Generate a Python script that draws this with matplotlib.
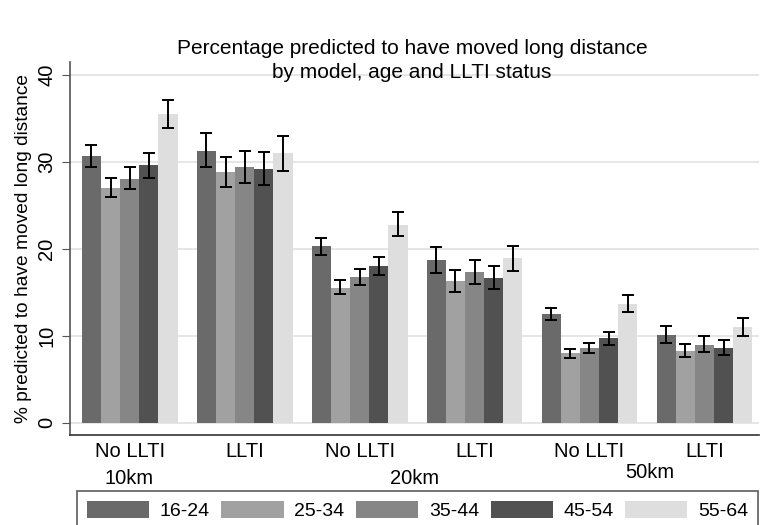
import numpy as np
import matplotlib.pyplot as plt

plt.rcParams['font.family'] = ['Liberation Sans', 'DejaVu Sans']

# groups: model distance x LLTI status
status = ["No LLTI", "LLTI", "No LLTI", "LLTI", "No LLTI", "LLTI"]
distances = ["10km", "20km", "50km"]
ages = ["16-24", "25-34", "35-44", "45-54", "55-64"]
colors = ["#6a6a6a", "#a1a1a1", "#868686", "#515151", "#dedede"]

# percentage per age band, one value per group
pct = {
    "16-24": [30.7, 31.3, 20.3, 18.7, 12.5, 10.1],
    "25-34": [27.0, 28.8, 15.5, 16.3, 8.0, 8.3],
    "35-44": [28.1, 29.4, 16.8, 17.4, 8.6, 9.0],
    "45-54": [29.6, 29.2, 18.0, 16.6, 9.7, 8.6],
    "55-64": [35.5, 31.0, 22.8, 18.9, 13.7, 11.0],
}
ci_low = {
    "16-24": [29.4, 29.4, 19.3, 17.2, 11.8, 9.2],
    "25-34": [26.0, 27.1, 14.8, 15.1, 7.4, 7.6],
    "35-44": [26.9, 27.6, 15.9, 16.0, 8.0, 8.2],
    "45-54": [28.2, 27.4, 17.0, 15.4, 9.0, 7.8],
    "55-64": [33.9, 29.0, 21.5, 17.5, 12.7, 10.0],
}
ci_high = {
    "16-24": [31.9, 33.3, 21.3, 20.2, 13.2, 11.1],
    "25-34": [28.2, 30.6, 16.4, 17.6, 8.5, 9.1],
    "35-44": [29.4, 31.3, 17.7, 18.7, 9.2, 10.0],
    "45-54": [31.0, 31.1, 19.1, 18.0, 10.5, 9.5],
    "55-64": [37.1, 33.0, 24.2, 20.3, 14.7, 12.1],
}

fig = plt.figure(figsize=(7.6, 5.25), dpi=100)
ax = fig.add_axes([70 / 760, 90 / 525, 689 / 760, 373 / 525])

group_start = np.arange(len(status)) * 6
for i, age in enumerate(ages):
    x = group_start + i + 0.5
    vals = np.array(pct[age])
    lo = vals - np.array(ci_low[age])
    hi = np.array(ci_high[age]) - vals
    ax.bar(x, vals, width=1.0, color=colors[i], label=age, zorder=2)
    ax.errorbar(x, vals, yerr=[lo, hi], fmt='none', ecolor='black',
                elinewidth=1.4, capsize=4.5, capthick=1.4, zorder=3)

ax.set_xlim(-0.62, 35.35)
ax.set_ylim(-1.4, 41.5)
ax.set_yticks([0, 10, 20, 30, 40])
ax.set_yticklabels(["0", "10", "20", "30", "40"], rotation=90, va='center')
ax.yaxis.grid(True, color='#e2e2e2', linewidth=1.2, zorder=0)
ax.set_axisbelow(True)
ax.tick_params(axis='y', labelsize=14.5, length=6, color='#555555', pad=4)

ax.set_xticks(group_start + 2.5)
ax.set_xticklabels(status, fontsize=14.5)
ax.tick_params(axis='x', length=0, pad=5)

for s in ['top', 'right']:
    ax.spines[s].set_visible(False)
ax.spines['left'].set_color('#555555')
ax.spines['bottom'].set_color('#333333')
ax.spines['left'].set_linewidth(1.2)
ax.spines['bottom'].set_linewidth(1.2)

ax.set_ylabel("% predicted to have moved long distance", fontsize=13.8, labelpad=4)

# outer group labels
fig.text(129 / 760, 1 - 478 / 525, distances[0], ha='center', va='center', fontsize=14.5)
fig.text(415 / 760, 1 - 478 / 525, distances[1], ha='center', va='center', fontsize=14.5)
fig.text(650 / 760, 1 - 473 / 525, distances[2], ha='center', va='center', fontsize=14.5)

fig.text(412 / 760, 1 - 48 / 525, "Percentage predicted to have moved long distance",
         ha='center', va='center', fontsize=15)
fig.text(412 / 760, 1 - 73 / 525, "by model, age and LLTI status",
         ha='center', va='center', fontsize=15)

leg_top = 1 - 491 / 525
leg = fig.legend(loc='upper left', bbox_to_anchor=(77 / 760, leg_top - 0.05, 681 / 760, 0.05),
                 mode='expand', ncol=5, fontsize=14, frameon=True, fancybox=False,
                 handlelength=3.2, handleheight=1.0, handletextpad=0.55,
                 columnspacing=1.2, borderpad=0.5, borderaxespad=0)
leg.get_frame().set_edgecolor('#333333')
leg.get_frame().set_linewidth(1.2)

fig.savefig("out.png", dpi=100)
